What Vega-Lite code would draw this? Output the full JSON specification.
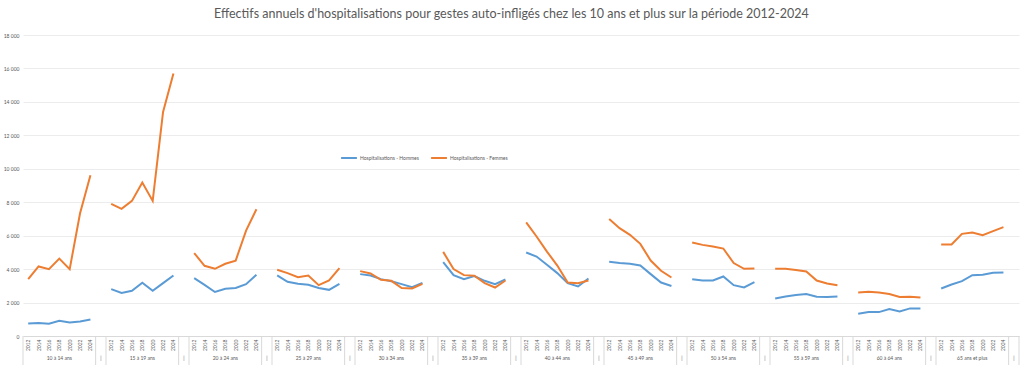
{
  "$schema": "https://vega.github.io/schema/vega-lite/v6.json",
  "autosize": {"type": "pad"},
  "padding": {"left": 3, "top": 7, "right": 2, "bottom": 0},
  "background": "white",
  "config": {
    "font": "Lato",
    "view": {"stroke": null},
    "title": {"font": "Lato", "fontSize": 12.5, "fontWeight": "normal", "color": "#595959", "anchor": "middle", "offset": 13}
  },
  "title": "Effectifs annuels d'hospitalisations pour gestes auto-infligés chez les 10 ans et plus sur la période 2012-2024",
  "spacing": 0,
  "bounds": "flush",
  "datasets": {
    "donnees": [
      {"g":"10 à 14 ans","c":"10 à 14 ans|2012","Hospitalisations - Hommes":750,"Hospitalisations - Femmes":3400},
      {"g":"10 à 14 ans","c":"10 à 14 ans|2014","Hospitalisations - Hommes":780,"Hospitalisations - Femmes":4160},
      {"g":"10 à 14 ans","c":"10 à 14 ans|2016","Hospitalisations - Hommes":730,"Hospitalisations - Femmes":4000},
      {"g":"10 à 14 ans","c":"10 à 14 ans|2018","Hospitalisations - Hommes":910,"Hospitalisations - Femmes":4630},
      {"g":"10 à 14 ans","c":"10 à 14 ans|2020","Hospitalisations - Hommes":810,"Hospitalisations - Femmes":4000},
      {"g":"10 à 14 ans","c":"10 à 14 ans|2022","Hospitalisations - Hommes":870,"Hospitalisations - Femmes":7340},
      {"g":"10 à 14 ans","c":"10 à 14 ans|2024","Hospitalisations - Hommes":990,"Hospitalisations - Femmes":9610},
      {"g":"15 à 19 ans","c":"15 à 19 ans|2012","Hospitalisations - Hommes":2800,"Hospitalisations - Femmes":7900},
      {"g":"15 à 19 ans","c":"15 à 19 ans|2014","Hospitalisations - Hommes":2570,"Hospitalisations - Femmes":7600},
      {"g":"15 à 19 ans","c":"15 à 19 ans|2016","Hospitalisations - Hommes":2700,"Hospitalisations - Femmes":8080},
      {"g":"15 à 19 ans","c":"15 à 19 ans|2018","Hospitalisations - Hommes":3180,"Hospitalisations - Femmes":9180},
      {"g":"15 à 19 ans","c":"15 à 19 ans|2020","Hospitalisations - Hommes":2700,"Hospitalisations - Femmes":8080},
      {"g":"15 à 19 ans","c":"15 à 19 ans|2022","Hospitalisations - Hommes":3160,"Hospitalisations - Femmes":13400},
      {"g":"15 à 19 ans","c":"15 à 19 ans|2024","Hospitalisations - Hommes":3620,"Hospitalisations - Femmes":15700},
      {"g":"20 à 24 ans","c":"20 à 24 ans|2012","Hospitalisations - Hommes":3460,"Hospitalisations - Femmes":4960},
      {"g":"20 à 24 ans","c":"20 à 24 ans|2014","Hospitalisations - Hommes":3060,"Hospitalisations - Femmes":4200},
      {"g":"20 à 24 ans","c":"20 à 24 ans|2016","Hospitalisations - Hommes":2630,"Hospitalisations - Femmes":4020},
      {"g":"20 à 24 ans","c":"20 à 24 ans|2018","Hospitalisations - Hommes":2820,"Hospitalisations - Femmes":4320},
      {"g":"20 à 24 ans","c":"20 à 24 ans|2020","Hospitalisations - Hommes":2870,"Hospitalisations - Femmes":4510},
      {"g":"20 à 24 ans","c":"20 à 24 ans|2022","Hospitalisations - Hommes":3100,"Hospitalisations - Femmes":6300},
      {"g":"20 à 24 ans","c":"20 à 24 ans|2024","Hospitalisations - Hommes":3660,"Hospitalisations - Femmes":7580},
      {"g":"25 à 29 ans","c":"25 à 29 ans|2012","Hospitalisations - Hommes":3620,"Hospitalisations - Femmes":3960},
      {"g":"25 à 29 ans","c":"25 à 29 ans|2014","Hospitalisations - Hommes":3240,"Hospitalisations - Femmes":3760},
      {"g":"25 à 29 ans","c":"25 à 29 ans|2016","Hospitalisations - Hommes":3120,"Hospitalisations - Femmes":3520},
      {"g":"25 à 29 ans","c":"25 à 29 ans|2018","Hospitalisations - Hommes":3060,"Hospitalisations - Femmes":3620},
      {"g":"25 à 29 ans","c":"25 à 29 ans|2020","Hospitalisations - Hommes":2870,"Hospitalisations - Femmes":3040},
      {"g":"25 à 29 ans","c":"25 à 29 ans|2022","Hospitalisations - Hommes":2760,"Hospitalisations - Femmes":3320},
      {"g":"25 à 29 ans","c":"25 à 29 ans|2024","Hospitalisations - Hommes":3120,"Hospitalisations - Femmes":4060},
      {"g":"30 à 34 ans","c":"30 à 34 ans|2012","Hospitalisations - Hommes":3700,"Hospitalisations - Femmes":3880},
      {"g":"30 à 34 ans","c":"30 à 34 ans|2014","Hospitalisations - Hommes":3620,"Hospitalisations - Femmes":3740},
      {"g":"30 à 34 ans","c":"30 à 34 ans|2016","Hospitalisations - Hommes":3400,"Hospitalisations - Femmes":3360},
      {"g":"30 à 34 ans","c":"30 à 34 ans|2018","Hospitalisations - Hommes":3280,"Hospitalisations - Femmes":3300},
      {"g":"30 à 34 ans","c":"30 à 34 ans|2020","Hospitalisations - Hommes":3100,"Hospitalisations - Femmes":2870},
      {"g":"30 à 34 ans","c":"30 à 34 ans|2022","Hospitalisations - Hommes":2920,"Hospitalisations - Femmes":2840},
      {"g":"30 à 34 ans","c":"30 à 34 ans|2024","Hospitalisations - Hommes":3180,"Hospitalisations - Femmes":3120},
      {"g":"35 à 39 ans","c":"35 à 39 ans|2012","Hospitalisations - Hommes":4420,"Hospitalisations - Femmes":5030},
      {"g":"35 à 39 ans","c":"35 à 39 ans|2014","Hospitalisations - Hommes":3640,"Hospitalisations - Femmes":4000},
      {"g":"35 à 39 ans","c":"35 à 39 ans|2016","Hospitalisations - Hommes":3400,"Hospitalisations - Femmes":3640},
      {"g":"35 à 39 ans","c":"35 à 39 ans|2018","Hospitalisations - Hommes":3580,"Hospitalisations - Femmes":3600},
      {"g":"35 à 39 ans","c":"35 à 39 ans|2020","Hospitalisations - Hommes":3300,"Hospitalisations - Femmes":3160},
      {"g":"35 à 39 ans","c":"35 à 39 ans|2022","Hospitalisations - Hommes":3100,"Hospitalisations - Femmes":2900},
      {"g":"35 à 39 ans","c":"35 à 39 ans|2024","Hospitalisations - Hommes":3380,"Hospitalisations - Femmes":3320},
      {"g":"40 à 44 ans","c":"40 à 44 ans|2012","Hospitalisations - Hommes":4990,"Hospitalisations - Femmes":6800},
      {"g":"40 à 44 ans","c":"40 à 44 ans|2014","Hospitalisations - Hommes":4750,"Hospitalisations - Femmes":5950},
      {"g":"40 à 44 ans","c":"40 à 44 ans|2016","Hospitalisations - Hommes":4260,"Hospitalisations - Femmes":5050},
      {"g":"40 à 44 ans","c":"40 à 44 ans|2018","Hospitalisations - Hommes":3760,"Hospitalisations - Femmes":4210},
      {"g":"40 à 44 ans","c":"40 à 44 ans|2020","Hospitalisations - Hommes":3160,"Hospitalisations - Femmes":3200},
      {"g":"40 à 44 ans","c":"40 à 44 ans|2022","Hospitalisations - Hommes":2960,"Hospitalisations - Femmes":3160},
      {"g":"40 à 44 ans","c":"40 à 44 ans|2024","Hospitalisations - Hommes":3440,"Hospitalisations - Femmes":3320},
      {"g":"45 à 49 ans","c":"45 à 49 ans|2012","Hospitalisations - Hommes":4440,"Hospitalisations - Femmes":7000},
      {"g":"45 à 49 ans","c":"45 à 49 ans|2014","Hospitalisations - Hommes":4360,"Hospitalisations - Femmes":6450},
      {"g":"45 à 49 ans","c":"45 à 49 ans|2016","Hospitalisations - Hommes":4320,"Hospitalisations - Femmes":6050},
      {"g":"45 à 49 ans","c":"45 à 49 ans|2018","Hospitalisations - Hommes":4220,"Hospitalisations - Femmes":5510},
      {"g":"45 à 49 ans","c":"45 à 49 ans|2020","Hospitalisations - Hommes":3700,"Hospitalisations - Femmes":4510},
      {"g":"45 à 49 ans","c":"45 à 49 ans|2022","Hospitalisations - Hommes":3200,"Hospitalisations - Femmes":3900},
      {"g":"45 à 49 ans","c":"45 à 49 ans|2024","Hospitalisations - Hommes":2990,"Hospitalisations - Femmes":3500},
      {"g":"50 à 54 ans","c":"50 à 54 ans|2012","Hospitalisations - Hommes":3400,"Hospitalisations - Femmes":5590},
      {"g":"50 à 54 ans","c":"50 à 54 ans|2014","Hospitalisations - Hommes":3320,"Hospitalisations - Femmes":5450},
      {"g":"50 à 54 ans","c":"50 à 54 ans|2016","Hospitalisations - Hommes":3320,"Hospitalisations - Femmes":5350},
      {"g":"50 à 54 ans","c":"50 à 54 ans|2018","Hospitalisations - Hommes":3560,"Hospitalisations - Femmes":5230},
      {"g":"50 à 54 ans","c":"50 à 54 ans|2020","Hospitalisations - Hommes":3040,"Hospitalisations - Femmes":4360},
      {"g":"50 à 54 ans","c":"50 à 54 ans|2022","Hospitalisations - Hommes":2900,"Hospitalisations - Femmes":4020},
      {"g":"50 à 54 ans","c":"50 à 54 ans|2024","Hospitalisations - Hommes":3220,"Hospitalisations - Femmes":4040},
      {"g":"55 à 59 ans","c":"55 à 59 ans|2012","Hospitalisations - Hommes":2240,"Hospitalisations - Femmes":4020},
      {"g":"55 à 59 ans","c":"55 à 59 ans|2014","Hospitalisations - Hommes":2360,"Hospitalisations - Femmes":4020},
      {"g":"55 à 59 ans","c":"55 à 59 ans|2016","Hospitalisations - Hommes":2450,"Hospitalisations - Femmes":3940},
      {"g":"55 à 59 ans","c":"55 à 59 ans|2018","Hospitalisations - Hommes":2510,"Hospitalisations - Femmes":3860},
      {"g":"55 à 59 ans","c":"55 à 59 ans|2020","Hospitalisations - Hommes":2350,"Hospitalisations - Femmes":3320},
      {"g":"55 à 59 ans","c":"55 à 59 ans|2022","Hospitalisations - Hommes":2330,"Hospitalisations - Femmes":3140},
      {"g":"55 à 59 ans","c":"55 à 59 ans|2024","Hospitalisations - Hommes":2360,"Hospitalisations - Femmes":3040},
      {"g":"60 à 64 ans","c":"60 à 64 ans|2012","Hospitalisations - Hommes":1330,"Hospitalisations - Femmes":2600},
      {"g":"60 à 64 ans","c":"60 à 64 ans|2014","Hospitalisations - Hommes":1430,"Hospitalisations - Femmes":2640},
      {"g":"60 à 64 ans","c":"60 à 64 ans|2016","Hospitalisations - Hommes":1430,"Hospitalisations - Femmes":2600},
      {"g":"60 à 64 ans","c":"60 à 64 ans|2018","Hospitalisations - Hommes":1610,"Hospitalisations - Femmes":2510},
      {"g":"60 à 64 ans","c":"60 à 64 ans|2020","Hospitalisations - Hommes":1470,"Hospitalisations - Femmes":2330},
      {"g":"60 à 64 ans","c":"60 à 64 ans|2022","Hospitalisations - Hommes":1650,"Hospitalisations - Femmes":2350},
      {"g":"60 à 64 ans","c":"60 à 64 ans|2024","Hospitalisations - Hommes":1650,"Hospitalisations - Femmes":2300},
      {"g":"65 ans et plus","c":"65 ans et plus|2012","Hospitalisations - Hommes":2840,"Hospitalisations - Femmes":5470},
      {"g":"65 ans et plus","c":"65 ans et plus|2014","Hospitalisations - Hommes":3080,"Hospitalisations - Femmes":5470},
      {"g":"65 ans et plus","c":"65 ans et plus|2016","Hospitalisations - Hommes":3280,"Hospitalisations - Femmes":6110},
      {"g":"65 ans et plus","c":"65 ans et plus|2018","Hospitalisations - Hommes":3640,"Hospitalisations - Femmes":6190},
      {"g":"65 ans et plus","c":"65 ans et plus|2020","Hospitalisations - Hommes":3660,"Hospitalisations - Femmes":6030},
      {"g":"65 ans et plus","c":"65 ans et plus|2022","Hospitalisations - Hommes":3780,"Hospitalisations - Femmes":6270},
      {"g":"65 ans et plus","c":"65 ans et plus|2024","Hospitalisations - Hommes":3800,"Hospitalisations - Femmes":6510}
    ],
    "groupes": [
      {"c":"10 à 14 ans|2012","type":"debut","label":""},
      {"c":"10 à 14 ans|2018","type":"groupe","label":"10 à 14 ans"},
      {"c":"10 à 14 ans|gap","type":"ecart","label":"|"},
      {"c":"15 à 19 ans|2018","type":"groupe","label":"15 à 19 ans"},
      {"c":"15 à 19 ans|gap","type":"ecart","label":"|"},
      {"c":"20 à 24 ans|2018","type":"groupe","label":"20 à 24 ans"},
      {"c":"20 à 24 ans|gap","type":"ecart","label":"|"},
      {"c":"25 à 29 ans|2018","type":"groupe","label":"25 à 29 ans"},
      {"c":"25 à 29 ans|gap","type":"ecart","label":"|"},
      {"c":"30 à 34 ans|2018","type":"groupe","label":"30 à 34 ans"},
      {"c":"30 à 34 ans|gap","type":"ecart","label":"|"},
      {"c":"35 à 39 ans|2018","type":"groupe","label":"35 à 39 ans"},
      {"c":"35 à 39 ans|gap","type":"ecart","label":"|"},
      {"c":"40 à 44 ans|2018","type":"groupe","label":"40 à 44 ans"},
      {"c":"40 à 44 ans|gap","type":"ecart","label":"|"},
      {"c":"45 à 49 ans|2018","type":"groupe","label":"45 à 49 ans"},
      {"c":"45 à 49 ans|gap","type":"ecart","label":"|"},
      {"c":"50 à 54 ans|2018","type":"groupe","label":"50 à 54 ans"},
      {"c":"50 à 54 ans|gap","type":"ecart","label":"|"},
      {"c":"55 à 59 ans|2018","type":"groupe","label":"55 à 59 ans"},
      {"c":"55 à 59 ans|gap","type":"ecart","label":"|"},
      {"c":"60 à 64 ans|2018","type":"groupe","label":"60 à 64 ans"},
      {"c":"60 à 64 ans|gap","type":"ecart","label":"|"},
      {"c":"65 ans et plus|2018","type":"groupe","label":"65 ans et plus"},
      {"c":"65 ans et plus|gap","type":"ecart","label":"|"}
    ]
  },
  "vconcat": [
    {
      "width": 996,
      "height": 301,
      "data": {"name": "donnees"},
      "transform": [
        {"fold": ["Hospitalisations - Hommes", "Hospitalisations - Femmes"], "as": ["serie", "valeur"]}
      ],
      "mark": {"type": "line", "strokeWidth": 2},
      "encoding": {
        "x": {
          "field": "c", "type": "ordinal", "sort": null,
          "scale": {"type": "band", "paddingInner": 0, "paddingOuter": 0, "domain": [
            "10 à 14 ans|2012","10 à 14 ans|2014","10 à 14 ans|2016","10 à 14 ans|2018","10 à 14 ans|2020","10 à 14 ans|2022","10 à 14 ans|2024","10 à 14 ans|gap",
            "15 à 19 ans|2012","15 à 19 ans|2014","15 à 19 ans|2016","15 à 19 ans|2018","15 à 19 ans|2020","15 à 19 ans|2022","15 à 19 ans|2024","15 à 19 ans|gap",
            "20 à 24 ans|2012","20 à 24 ans|2014","20 à 24 ans|2016","20 à 24 ans|2018","20 à 24 ans|2020","20 à 24 ans|2022","20 à 24 ans|2024","20 à 24 ans|gap",
            "25 à 29 ans|2012","25 à 29 ans|2014","25 à 29 ans|2016","25 à 29 ans|2018","25 à 29 ans|2020","25 à 29 ans|2022","25 à 29 ans|2024","25 à 29 ans|gap",
            "30 à 34 ans|2012","30 à 34 ans|2014","30 à 34 ans|2016","30 à 34 ans|2018","30 à 34 ans|2020","30 à 34 ans|2022","30 à 34 ans|2024","30 à 34 ans|gap",
            "35 à 39 ans|2012","35 à 39 ans|2014","35 à 39 ans|2016","35 à 39 ans|2018","35 à 39 ans|2020","35 à 39 ans|2022","35 à 39 ans|2024","35 à 39 ans|gap",
            "40 à 44 ans|2012","40 à 44 ans|2014","40 à 44 ans|2016","40 à 44 ans|2018","40 à 44 ans|2020","40 à 44 ans|2022","40 à 44 ans|2024","40 à 44 ans|gap",
            "45 à 49 ans|2012","45 à 49 ans|2014","45 à 49 ans|2016","45 à 49 ans|2018","45 à 49 ans|2020","45 à 49 ans|2022","45 à 49 ans|2024","45 à 49 ans|gap",
            "50 à 54 ans|2012","50 à 54 ans|2014","50 à 54 ans|2016","50 à 54 ans|2018","50 à 54 ans|2020","50 à 54 ans|2022","50 à 54 ans|2024","50 à 54 ans|gap",
            "55 à 59 ans|2012","55 à 59 ans|2014","55 à 59 ans|2016","55 à 59 ans|2018","55 à 59 ans|2020","55 à 59 ans|2022","55 à 59 ans|2024","55 à 59 ans|gap",
            "60 à 64 ans|2012","60 à 64 ans|2014","60 à 64 ans|2016","60 à 64 ans|2018","60 à 64 ans|2020","60 à 64 ans|2022","60 à 64 ans|2024","60 à 64 ans|gap",
            "65 ans et plus|2012","65 ans et plus|2014","65 ans et plus|2016","65 ans et plus|2018","65 ans et plus|2020","65 ans et plus|2022","65 ans et plus|2024","65 ans et plus|gap"
          ]},
          "axis": {
            "title": null, "ticks": false, "grid": false,
            "domain": true, "domainColor": "#d9d9d9", "domainWidth": 1,
            "labelAngle": -90, "labelFontSize": 5, "labelColor": "#595959", "labelPadding": 3,
            "labelOverlap": false, "labelBound": false, "labelFlush": false,
            "labelExpr": "split(datum.value, '|')[1] == 'gap' ? '' : split(datum.value, '|')[1]"
          }
        },
        "y": {
          "field": "valeur", "type": "quantitative",
          "scale": {"domain": [0, 18000], "nice": false, "zero": true},
          "axis": {
            "title": null, "values": [0, 2000, 4000, 6000, 8000, 10000, 12000, 14000, 16000, 18000],
            "domain": false, "ticks": false, "grid": true, "gridColor": "#ececec", "gridWidth": 1,
            "labelFontSize": 5, "labelColor": "#595959", "labelPadding": 4,
            "labelExpr": "replace(format(datum.value, ','), ',', ' ')"
          }
        },
        "color": {
          "field": "serie", "type": "nominal",
          "scale": {"domain": ["Hospitalisations - Hommes", "Hospitalisations - Femmes"], "range": ["#5B9BD5", "#ED7D31"]},
          "legend": {
            "title": null, "orient": "none", "legendX": 317, "legendY": 114, "direction": "horizontal",
            "symbolType": "stroke", "symbolStrokeWidth": 2, "symbolSize": 250,
            "labelFontSize": 5, "labelColor": "#595959", "columnPadding": 8, "labelOffset": 2
          }
        },
        "detail": {"field": "g"}
      }
    },
    {
      "width": 996,
      "height": 29,
      "data": {"name": "groupes"},
      "encoding": {
        "x": {
          "field": "c", "type": "ordinal", "sort": null,
          "scale": {"type": "band", "paddingInner": 0, "paddingOuter": 0, "domain": [
            "10 à 14 ans|2012","10 à 14 ans|2014","10 à 14 ans|2016","10 à 14 ans|2018","10 à 14 ans|2020","10 à 14 ans|2022","10 à 14 ans|2024","10 à 14 ans|gap",
            "15 à 19 ans|2012","15 à 19 ans|2014","15 à 19 ans|2016","15 à 19 ans|2018","15 à 19 ans|2020","15 à 19 ans|2022","15 à 19 ans|2024","15 à 19 ans|gap",
            "20 à 24 ans|2012","20 à 24 ans|2014","20 à 24 ans|2016","20 à 24 ans|2018","20 à 24 ans|2020","20 à 24 ans|2022","20 à 24 ans|2024","20 à 24 ans|gap",
            "25 à 29 ans|2012","25 à 29 ans|2014","25 à 29 ans|2016","25 à 29 ans|2018","25 à 29 ans|2020","25 à 29 ans|2022","25 à 29 ans|2024","25 à 29 ans|gap",
            "30 à 34 ans|2012","30 à 34 ans|2014","30 à 34 ans|2016","30 à 34 ans|2018","30 à 34 ans|2020","30 à 34 ans|2022","30 à 34 ans|2024","30 à 34 ans|gap",
            "35 à 39 ans|2012","35 à 39 ans|2014","35 à 39 ans|2016","35 à 39 ans|2018","35 à 39 ans|2020","35 à 39 ans|2022","35 à 39 ans|2024","35 à 39 ans|gap",
            "40 à 44 ans|2012","40 à 44 ans|2014","40 à 44 ans|2016","40 à 44 ans|2018","40 à 44 ans|2020","40 à 44 ans|2022","40 à 44 ans|2024","40 à 44 ans|gap",
            "45 à 49 ans|2012","45 à 49 ans|2014","45 à 49 ans|2016","45 à 49 ans|2018","45 à 49 ans|2020","45 à 49 ans|2022","45 à 49 ans|2024","45 à 49 ans|gap",
            "50 à 54 ans|2012","50 à 54 ans|2014","50 à 54 ans|2016","50 à 54 ans|2018","50 à 54 ans|2020","50 à 54 ans|2022","50 à 54 ans|2024","50 à 54 ans|gap",
            "55 à 59 ans|2012","55 à 59 ans|2014","55 à 59 ans|2016","55 à 59 ans|2018","55 à 59 ans|2020","55 à 59 ans|2022","55 à 59 ans|2024","55 à 59 ans|gap",
            "60 à 64 ans|2012","60 à 64 ans|2014","60 à 64 ans|2016","60 à 64 ans|2018","60 à 64 ans|2020","60 à 64 ans|2022","60 à 64 ans|2024","60 à 64 ans|gap",
            "65 ans et plus|2012","65 ans et plus|2014","65 ans et plus|2016","65 ans et plus|2018","65 ans et plus|2020","65 ans et plus|2022","65 ans et plus|2024","65 ans et plus|gap"
          ]},
          "axis": null
        }
      },
      "layer": [
        {
          "transform": [{"filter": "datum.type != 'groupe'"}],
          "mark": {"type": "rule", "color": "#d9d9d9", "strokeWidth": 1},
          "encoding": {"x": {"field": "c", "type": "ordinal", "bandPosition": 0}}
        },
        {
          "transform": [{"filter": "datum.type == 'ecart'"}],
          "mark": {"type": "rule", "color": "#d9d9d9", "strokeWidth": 1},
          "encoding": {"x": {"field": "c", "type": "ordinal", "bandPosition": 1}}
        },
        {
          "transform": [{"filter": "datum.type != 'debut'"}],
          "mark": {"type": "text", "fontSize": 5, "color": "#595959", "dy": 7},
          "encoding": {"text": {"field": "label"}}
        }
      ]
    }
  ]
}
